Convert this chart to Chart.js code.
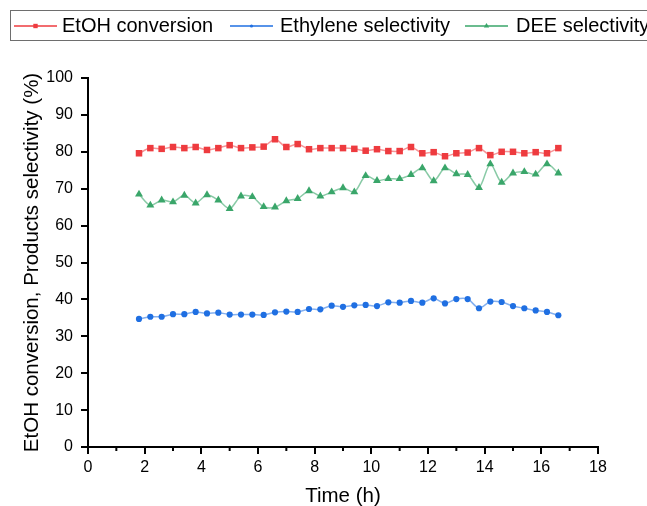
<!DOCTYPE html>
<html>
<head>
<meta charset="utf-8">
<script src="https://cdn.jsdelivr.net/npm/chart.js@4.4.1/dist/chart.umd.min.js"></script>
<style>
    html, body { margin: 0; padding: 0; background: #fff; }
    #wrap { width: 647px; height: 506px; }
</style>
</head>
<body>
<div id="wrap"><canvas id="grafico" width="647" height="506"></canvas></div>
<script>
const tempos = [1.8, 2.2, 2.6, 3.0, 3.4, 3.8, 4.2, 4.6, 5.0, 5.4, 5.8, 6.2, 6.6, 7.0, 7.4, 7.8, 8.2, 8.6, 9.0,
    9.4, 9.8, 10.2, 10.6, 11.0, 11.4, 11.8, 12.2, 12.6, 13.0, 13.4, 13.8, 14.2, 14.6, 15.0, 15.4, 15.8, 16.2, 16.6];
const conversaoEtOH = [79.6, 81.0, 80.8, 81.3, 81.0, 81.3, 80.5, 81.0, 81.8, 81.0, 81.2, 81.4, 83.4, 81.3, 82.1, 80.7,
    81.0, 81.0, 81.0, 80.8, 80.3, 80.7, 80.2, 80.2, 81.3, 79.6, 79.9, 78.8, 79.6, 79.8, 81.0, 79.1, 80.0, 80.0,
    79.6, 79.9, 79.6, 81.0];
const seletividadeEtileno = [34.7, 35.3, 35.3, 36.0, 36.0, 36.6, 36.2, 36.4, 35.9, 35.9, 35.9, 35.8, 36.5, 36.7, 36.6,
    37.4, 37.3, 38.3, 38.0, 38.4, 38.5, 38.2, 39.2, 39.1, 39.6, 39.1, 40.3, 38.9, 40.1, 40.1, 37.6, 39.4, 39.3,
    38.2, 37.6, 37.0, 36.6, 35.7];
const seletividadeDEE = [68.5, 65.5, 66.9, 66.4, 68.2, 66.1, 68.3, 66.9, 64.6, 68.0, 67.8, 65.1, 65.0, 66.7, 67.3,
    69.4, 68.0, 69.1, 70.2, 69.1, 73.5, 72.2, 72.7, 72.7, 73.8, 75.6, 72.1, 75.6, 74.0, 73.8, 70.3, 76.7, 71.7,
    74.2, 74.6, 73.9, 76.7, 74.2];

const rotulos = ['EtOH conversion', 'Ethylene selectivity', 'DEE selectivity'];
const ticksMenoresX = [1, 3, 5, 7, 9, 11, 13, 15, 17];

const FONTE = '"Liberation Sans", Arial, sans-serif';

const series = [
    { label: rotulos[0], y: conversaoEtOH, cor: '#ee3b3f', linha: 'rgba(238,59,63,0.55)', estilo: 'rect', raio: 4.6 },
    { label: rotulos[1], y: seletividadeEtileno, cor: '#1f6fe2', linha: 'rgba(31,111,226,0.55)', estilo: 'circle', raio: 3.1 },
    { label: rotulos[2], y: seletividadeDEE, cor: '#3aa66a', linha: 'rgba(58,166,106,0.6)', estilo: 'triangle', raio: 4.6 }
];

// legenda em caixa, com linha + marcador, desenhada por cima do canvas
const legendaCaixa = {
    id: 'legendaCaixa',
    afterDraw(chart) {
        const ctx = chart.ctx;
        ctx.save();
        ctx.strokeStyle = '#6e6e6e';
        ctx.lineWidth = 1;
        ctx.strokeRect(10.5, 10.5, 660, 30);
        const posicoes = [[14, 62], [230, 280], [465, 516]];
        ctx.font = '20px ' + FONTE;
        ctx.textBaseline = 'middle';
        ctx.fillStyle = '#000';
        series.forEach((s, i) => {
            const [x0, xt] = posicoes[i];
            ctx.strokeStyle = s.cor;
            ctx.lineWidth = 1.5;
            ctx.beginPath();
            ctx.moveTo(x0, 26);
            ctx.lineTo(x0 + 43, 26);
            ctx.stroke();
            ctx.fillStyle = s.cor;
            Chart.helpers.drawPoint(ctx, { pointStyle: s.estilo, radius: s.raio - 1.5, rotation: 0, borderWidth: 0 }, x0 + 21.5, 26);
            ctx.fillStyle = '#000';
            ctx.fillText(s.label, xt, 26);
        });
        ctx.restore();
    }
};

// ticks menores do eixo x
const ticksMenores = {
    id: 'ticksMenores',
    afterDraw(chart) {
        const ctx = chart.ctx;
        const escala = chart.scales.x;
        const base = chart.chartArea.bottom;
        ctx.save();
        ctx.strokeStyle = '#000';
        ctx.lineWidth = 2;
        ticksMenoresX.forEach((v) => {
            const px = escala.getPixelForValue(v);
            ctx.beginPath();
            ctx.moveTo(px, base);
            ctx.lineTo(px, base + 4);
            ctx.stroke();
        });
        ctx.restore();
    }
};

function plotar() {
    const ctx = document.getElementById('grafico').getContext('2d');
    Chart.defaults.font.family = FONTE;
    Chart.defaults.color = '#000';

    new Chart(ctx, {
        type: 'line',
        data: {
            datasets: series.map((s) => ({
                label: s.label,
                data: tempos.map((t, i) => ({ x: t, y: s.y[i] })),
                borderColor: s.linha,
                borderWidth: 1.5,
                backgroundColor: s.cor,
                pointBackgroundColor: s.cor,
                pointBorderColor: s.cor,
                pointBorderWidth: 0,
                pointStyle: s.estilo,
                pointRadius: s.raio,
                tension: 0.3,
                fill: false
            }))
        },
        options: {
            animation: false,
            responsive: false,
            layout: { padding: { left: 0, top: 78, right: 49, bottom: 0 } },
            plugins: {
                legend: { display: false },
                tooltip: { enabled: false }
            },
            scales: {
                x: {
                    type: 'linear',
                    min: 0,
                    max: 18,
                    border: { display: true, color: '#000', width: 2 },
                    grid: { drawOnChartArea: false, drawTicks: true, tickLength: 7, tickColor: '#000', lineWidth: 2 },
                    ticks: { stepSize: 2, font: { size: 16 }, color: '#000', padding: 4, maxRotation: 0 },
                    title: { display: true, text: 'Time (h)', font: { size: 20.5 }, color: '#000', padding: { top: 4, bottom: -3 } },
                    afterFit: (escala) => { escala.height = 59; }
                },
                y: {
                    min: 0,
                    max: 100,
                    border: { display: true, color: '#000', width: 2 },
                    grid: { drawOnChartArea: false, drawTicks: true, tickLength: 7, tickColor: '#000', lineWidth: 2 },
                    ticks: { stepSize: 10, font: { size: 16 }, color: '#000', padding: 8 },
                    title: { display: true, text: 'EtOH conversion, Products selectivity (%)', font: { size: 20.5 }, color: '#000', padding: { top: 20, bottom: 4 } },
                    afterFit: (escala) => { escala.width = 88; }
                }
            }
        },
        plugins: [legendaCaixa, ticksMenores]
    });
}

window.addEventListener('DOMContentLoaded', plotar);
</script>
</body>
</html>
